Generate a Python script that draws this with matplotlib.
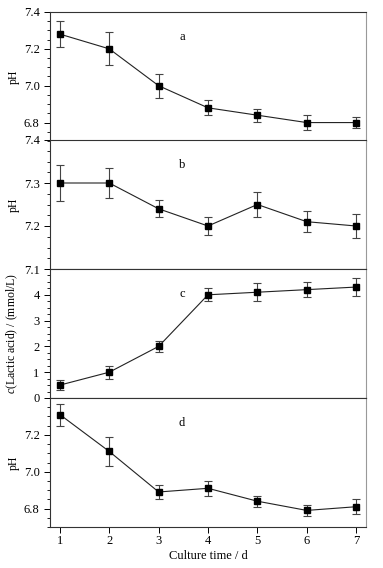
import matplotlib.pyplot as plt
from matplotlib.ticker import MultipleLocator

plt.rcParams['font.family'] = ['Liberation Serif', 'DejaVu Serif']
plt.rcParams['mathtext.fontset'] = 'custom'
plt.rcParams['mathtext.it'] = 'Liberation Serif:italic'
plt.rcParams['mathtext.rm'] = 'Liberation Serif'

days = [1, 2, 3, 4, 5, 6, 7]

ph_a = [7.28, 7.20, 7.00, 6.88, 6.84, 6.80, 6.80]
err_a = [0.07, 0.09, 0.065, 0.04, 0.035, 0.04, 0.03]

ph_b = [7.30, 7.30, 7.24, 7.20, 7.25, 7.21, 7.20]
err_b = [0.042, 0.035, 0.02, 0.022, 0.03, 0.025, 0.027]

lactic_c = [0.5, 1.0, 2.0, 4.0, 4.1, 4.2, 4.3]
err_c = [0.2, 0.25, 0.2, 0.25, 0.35, 0.3, 0.35]

ph_d = [7.31, 7.11, 6.89, 6.91, 6.84, 6.79, 6.81]
err_d = [0.06, 0.08, 0.04, 0.04, 0.03, 0.03, 0.04]

panels = [
    (ph_a, err_a, 'a', 'pH', (6.7, 7.4), ['6.8', '7.0', '7.2', '7.4'], 0.05),
    (ph_b, err_b, 'b', 'pH', (7.1, 7.4), ['7.1', '7.2', '7.3', '7.4'], 0.025),
    (lactic_c, err_c, 'c', '$c$(Lactic acid) / (mmol/L)', (0, 5), ['0', '1', '2', '3', '4'], 0.25),
    (ph_d, err_d, 'd', 'pH', (6.7, 7.4), ['6.8', '7.0', '7.2'], 0.05),
]

fig = plt.figure(figsize=(3.83, 5.68), dpi=100)
left, width = 50 / 383, 316 / 383
tops = [12, 140, 269, 398]
h = 129

for i, (vals, errs, tag, ylab, ylim, yt, minor) in enumerate(panels):
    top = tops[i]
    ax = fig.add_axes([left, 1 - (top + h) / 568, width, h / 568])
    ax.errorbar(days, vals, yerr=errs, fmt='-', color='#222222', lw=0.8,
                marker='s', ms=4, mfc='black', mec='black',
                ecolor='#444444', elinewidth=0.8, capsize=3, capthick=0.8)
    ax.set_xlim(0.8, 7.2)
    ax.set_ylim(*ylim)
    ax.set_yticks([float(t) for t in yt])
    ax.set_yticklabels(yt)
    ax.yaxis.set_minor_locator(MultipleLocator(minor))
    ax.set_xticks(days)
    ax.tick_params(axis='x', direction='out', length=4, width=0.7, labelsize=9, pad=2)
    ax.tick_params(axis='y', which='major', direction='out', length=4, width=0.7, labelsize=9)
    ax.tick_params(axis='y', which='minor', direction='out', length=2, width=0.6)
    if i < 3:
        ax.tick_params(axis='x', labelbottom=False)
    else:
        ax.set_xlabel('Culture time / d', fontsize=9, labelpad=2)
    ax.set_ylabel(ylab, fontsize=8.5)
    ax.yaxis.set_label_coords(-0.095, 0.5)
    ax.text(3.47, ylim[0] + 0.805 * (ylim[1] - ylim[0]), tag, fontsize=9,
            ha='center', va='center')
    for s in ['left', 'bottom', 'top']:
        ax.spines[s].set_linewidth(0.8)
        ax.spines[s].set_color('#333333')
    ax.spines['right'].set_color('#999999')
    ax.spines['right'].set_linewidth(0.8)

fig.savefig('out.png', dpi=100)
